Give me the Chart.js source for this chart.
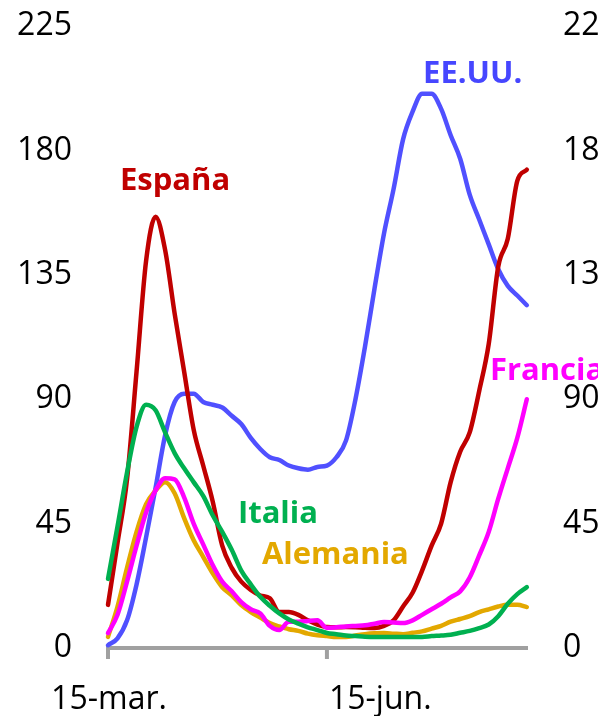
<!DOCTYPE html>
<html>
<head>
<meta charset="utf-8">
<script src="https://cdn.jsdelivr.net/npm/chart.js@4.4.1/dist/chart.umd.min.js"></script>
<style>
html,body{margin:0;padding:0;background:#fff;overflow:hidden}
#wrap{width:598px;height:716px;position:relative}
</style>
</head>
<body>
<div id="wrap"><canvas id="c"></canvas></div>
<script>
// Days since 15-mar
const DAYS = [0,4,8,12,16,20,24,28,32,36,40,44,48,52,56,60,64,68,72,76,80,84,88,92,96,100,104,108,112,116,120,124,128,132,136,140,144,148,152,156,160,164,168,172,176];
const X_TICKS = [0, 92];
const X_TICK_LABELS = ['15-mar.', '15-jun.'];
const Y_MIN = 0, Y_MAX = 225, Y_STEP = 45;

const ESPANA   = [15.6,38,61,100,140,156,144,121,100,79,66,53,37,29,24,21,19,18,13,13,12,10,8.5,7.6,7.5,7.6,7.5,7.3,7.2,8,10,15,20,28,37,45,60,71,78,93,110,138,148,169,173];
const EEUU     = [1,3.5,10,23,40,58,77,89,92,92,89,88,87,84,81,76,72,69,68,66,65,64.5,65.5,66,69,75,90,109,130,150,166,184,194,200.5,200.5,195,185.5,177,164,155,146,137,131,127.5,124];
const ITALIA   = [25,44,63.5,80,88,86,78,70.5,65,60,55,48,42,35.5,28,23,18.5,15.3,12.5,10.3,8.8,7.5,6.5,5.4,5,4.5,4.3,4.1,4,4,4,4,4,4,4.3,4.5,4.8,5.5,6.2,7.2,8.5,11.5,16,19.5,22];
const ALEMANIA = [4,15,29,42,52,57,60,56,47,39,33,27,22,19,15.5,13,11,9,7.8,6.8,6.2,5.2,4.6,4.3,4,4,4.5,5,5.3,5.4,5.2,5,5.5,6,7,8,9.5,10.5,11.5,13,14,15,15.6,15.6,14.8];
const FRANCIA  = [5.4,12,24,37,49,57,61.4,61,54.5,45,37.5,30,24,20.5,16.6,14,12.5,8,6.5,9.5,9.5,9.8,10,7.3,7.5,7.8,8,8.2,8.8,9.4,9.2,9,10,12,14,16,18.3,20.5,25.5,33.5,42,54,65,76,90];

const COLORS = {
  espana: '#c00000',
  eeuu: '#5050ff',
  italia: '#00b050',
  alemania: '#e3a800',
  francia: '#ff00ff'
};

// Series label anchors in data units (day, value)
const SERIES_LABELS = [
  {text:'España',   color:COLORS.espana,   d:5.0,   v:165.7},
  {text:'EE.UU.',   color:'#4646ff',       d:132.4, v:204.4},
  {text:'Francia',  color:COLORS.francia,  d:160.5, v:97.0},
  {text:'Italia',   color:COLORS.italia,   d:54.6,  v:45.2},
  {text:'Alemania', color:COLORS.alemania, d:64.7,  v:30.4}
];

const FONT = "'Open Sans', 'Liberation Sans', sans-serif";
Chart.defaults.font.family = FONT;

function mk(label, arr, color){
  return {
    label, data: DAYS.map((d,i)=>({x:d, y:arr[i]})),
    borderColor: color, backgroundColor: color,
    borderWidth: 4.5, pointRadius: 0, fill: false,
    cubicInterpolationMode: 'monotone',
    borderJoinStyle: 'round', borderCapStyle: 'round',
    clip: false, yAxisID: 'y'
  };
}

const decor = {
  id: 'decor',
  beforeDatasetsDraw(chart){
    const {ctx, chartArea:a, scales:{x}} = chart;
    ctx.save();
    ctx.strokeStyle = '#a0a0a0';
    ctx.lineWidth = 4;
    ctx.lineCap = 'butt';
    ctx.beginPath();
    ctx.moveTo(a.left - 2, a.bottom);
    ctx.lineTo(a.right, a.bottom);
    ctx.stroke();
    X_TICKS.forEach(t => {
      const px = x.getPixelForValue(t);
      ctx.beginPath();
      ctx.moveTo(px, a.bottom);
      ctx.lineTo(px, a.bottom + 11);
      ctx.stroke();
    });
    ctx.fillStyle = '#000';
    ctx.font = '32px ' + FONT;
    ctx.textBaseline = 'alphabetic';
    X_TICKS.forEach((t,i) => {
      const px = x.getPixelForValue(t);
      if (i === 0) { ctx.textAlign = 'center'; ctx.fillText(X_TICK_LABELS[i], px + 1, a.bottom + 61); }
      else { ctx.textAlign = 'left'; ctx.fillText(X_TICK_LABELS[i], px + 2, a.bottom + 61); }
    });
    ctx.restore();
  },
  afterDatasetsDraw(chart){
    const {ctx, scales:{x, y}} = chart;
    ctx.save();
    ctx.font = 'bold 31px ' + FONT;
    ctx.textAlign = 'left';
    ctx.textBaseline = 'alphabetic';
    SERIES_LABELS.forEach(l => {
      ctx.fillStyle = l.color;
      ctx.fillText(l.text, x.getPixelForValue(l.d), y.getPixelForValue(l.v));
    });
    ctx.restore();
  }
};

function fixV(width){
  return function(s){ s.width = width; s.paddingTop = 0; s.paddingBottom = 0; };
}

new Chart(document.getElementById('c'), {
  type: 'line',
  data: {
    datasets: [
      mk('Italia', ITALIA, COLORS.italia),
      mk('Francia', FRANCIA, COLORS.francia),
      mk('España', ESPANA, COLORS.espana),
      mk('Alemania', ALEMANIA, COLORS.alemania),
      mk('EE.UU.', EEUU, COLORS.eeuu)
    ]
  },
  options: {
    responsive: true,
    maintainAspectRatio: false,
    animation: false,
    devicePixelRatio: 1,
    layout: { padding: { top: 26, bottom: 68, left: 0, right: 0 } },
    plugins: { legend: { display: false }, tooltip: { enabled: false } },
    scales: {
      x: { type: 'linear', display: false, min: 0, max: 176.5 },
      y: {
        position: 'left', min: Y_MIN, max: Y_MAX,
        grid: { display: false, drawTicks: false }, border: { display: false },
        ticks: { stepSize: Y_STEP, color: '#000', font: { size: 32 }, padding: 36 },
        afterFit: fixV(108)
      },
      y2: {
        position: 'right', min: Y_MIN, max: Y_MAX,
        grid: { display: false, drawTicks: false }, border: { display: false },
        ticks: { stepSize: Y_STEP, color: '#000', font: { size: 32 }, padding: 35 },
        afterFit: fixV(70)
      }
    }
  },
  plugins: [decor]
});
</script>
</body>
</html>
